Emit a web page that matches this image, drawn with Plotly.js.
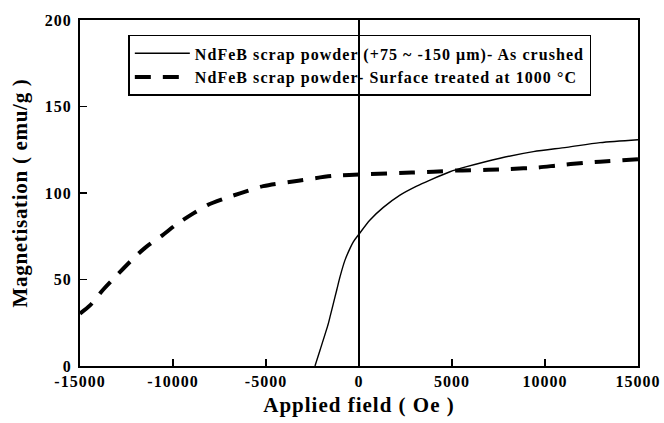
<!DOCTYPE html>
<html>
<head>
<meta charset="utf-8">
<script src="https://cdn.plot.ly/plotly-3.0.1.min.js"></script>
<style>
html,body{margin:0;padding:0;background:#fff;}
#chart{width:664px;height:423px;}
text.legendtext{letter-spacing:1.05px;}
.xtick text, .ytick text{letter-spacing:1px;}
text.xtitle{letter-spacing:1px;}
text.ytitle{letter-spacing:0.7px;}
</style>
</head>
<body>
<div id="chart"></div>
<script>
// As crushed (+75 ~ -150 µm)
const fieldCrushed = [-2366, -2097, -1650, -1559, -1380, -1200, -1022, -753, -484, -305, -36, 591, 1308, 2204, 3100, 3817, 4892, 5789, 7581, 9373, 11165, 12957, 15000];
const magCrushed   = [0, 9.1, 24.5, 28.4, 36.1, 43.8, 51.5, 61.2, 68, 71.8, 75.7, 84.4, 91.7, 98.8, 104, 107.5, 112.3, 115.2, 120.1, 123.9, 126.4, 129.1, 130.8];

// Surface treated at 1000 °C
const fieldTreated = [-15000, -14462, -13747, -13065, -12220, -11505, -10555, -9800, -8906, -8150, -7204, -6398, -5143, -3262, -1470, 323, 2832, 3996, 5250, 6952, 8118, 9552, 10717, 12060, 12957, 15000];
const magTreated   = [30.3, 35, 44.2, 51.9, 61.2, 68.3, 75.7, 82, 88.2, 93, 96.9, 99.8, 104, 107.1, 109.8, 110.8, 111.8, 112.3, 113.0, 113.4, 113.9, 114.7, 116, 117.4, 118.1, 119.5];

const seriesNames = ['NdFeB scrap powder (+75 ~ -150 μm)- As crushed', 'NdFeB scrap powder- Surface treated at 1000 °C'];

const xTickVals = [-15000, -10000, -5000, 0, 5000, 10000, 15000];
const xTickText = ['-15000', '-10000', '-5000', '0', '5000', '10000', '15000'];
const yTickVals = [0, 50, 100, 150, 200];
const yTickText = ['0', '50', '100', '150', '200'];

const serif = 'Liberation Serif, Times New Roman, serif';

const traces = [
  {x: fieldCrushed, y: magCrushed, name: seriesNames[0], mode: 'lines',
   line: {color: '#000', width: 1.4, shape: 'spline', smoothing: 0.8}},
  {x: fieldTreated, y: magTreated, name: seriesNames[1], mode: 'lines',
   line: {color: '#000', width: 4, dash: '16px,12px', shape: 'spline', smoothing: 0.8}}
];

const layout = {
  width: 664, height: 423,
  margin: {l: 80, r: 26, t: 20, b: 57},
  paper_bgcolor: '#fff', plot_bgcolor: '#fff',
  font: {family: serif, color: '#000', weight: 'bold'},
  showlegend: true,
  legend: {x: 0.0866, y: 0.957, xanchor: 'left', yanchor: 'top',
    bgcolor: 'rgba(0,0,0,0)', bordercolor: '#000', borderwidth: 1.5,
    font: {family: serif, size: 16, color: '#000', weight: 'bold'},
    itemwidth: 55, tracegroupgap: 0},
  xaxis: {range: [-15000, 15000], tickvals: xTickVals, ticktext: xTickText,
    ticks: 'inside', ticklen: 7, tickwidth: 1.5, tickcolor: '#000',
    ticklabelstandoff: 0,
    showline: true, linewidth: 2, linecolor: '#000', mirror: true,
    showgrid: false, zeroline: true, zerolinecolor: '#000', zerolinewidth: 1.5,
    tickfont: {family: serif, size: 16, color: '#000', weight: 'bold'},
    title: {text: 'Applied field ( Oe )', standoff: 8,
      font: {family: serif, size: 21, color: '#000', weight: 'bold'}}},
  yaxis: {range: [0, 200], tickvals: yTickVals, ticktext: yTickText,
    ticks: 'inside', ticklen: 7, tickwidth: 1.5, tickcolor: '#000',
    ticklabelstandoff: 3,
    showline: true, linewidth: 2, linecolor: '#000', mirror: true,
    showgrid: false, zeroline: false,
    tickfont: {family: serif, size: 16, color: '#000', weight: 'bold'},
    title: {text: 'Magnetisation ( emu/g )', standoff: 11,
      font: {family: serif, size: 21, color: '#000', weight: 'bold'}}}
};

Plotly.newPlot('chart', traces, layout, {displayModeBar: false, staticPlot: true});
</script>
</body>
</html>
